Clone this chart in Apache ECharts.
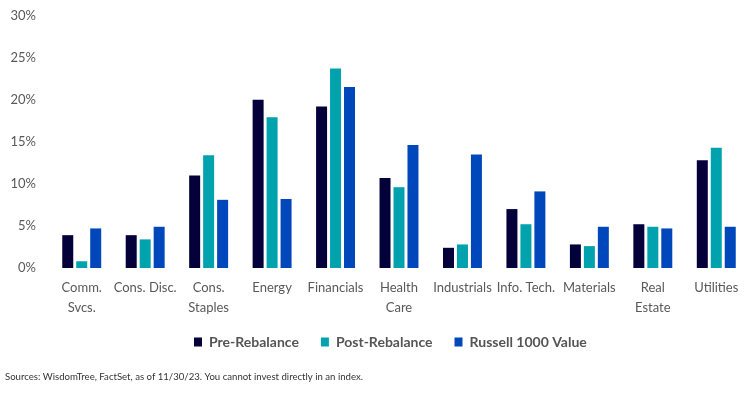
<!DOCTYPE html>
<html>
<head>
<meta charset="utf-8">
<script src="https://cdn.jsdelivr.net/npm/echarts@6/dist/echarts.min.js"></script>
<style>html,body{margin:0;padding:0;background:#fff;}#c{width:748px;height:393px;}</style>
</head>
<body>
<div id="c"></div>
<script>
const categories = ["Comm.\nSvcs.", "Cons. Disc.", "Cons.\nStaples", "Energy", "Financials", "Health\nCare", "Industrials", "Info. Tech.", "Materials", "Real\nEstate", "Utilities"];
const preRebalance = [3.9, 3.9, 11.0, 20.0, 19.2, 10.7, 2.4, 7.0, 2.8, 5.2, 12.8];
const postRebalance = [0.8, 3.4, 13.4, 17.9, 23.7, 9.6, 2.8, 5.2, 2.6, 4.9, 14.3];
const russell1000Value = [4.7, 4.9, 8.1, 8.2, 21.5, 14.6, 13.5, 9.1, 4.9, 4.7, 4.9];
const seriesNames = ["Pre-Rebalance", "Post-Rebalance", "Russell 1000 Value"];
const yTicks = { min: 0, max: 30, interval: 5 };
const footnote = "Sources: WisdomTree, FactSet, as of 11/30/23. You cannot invest directly in an index.";

const colors = ["#03003A", "#00A3AD", "#0047BB"];
const fontFam = "'Source Sans Pro', Lato, 'Open Sans', sans-serif";
const chart = echarts.init(document.getElementById('c'));
const mk = (name, data, i) => ({
  name, type: 'bar', data, barWidth: 11, barGap: '27%',
  itemStyle: { color: colors[i] }
});
chart.setOption({
  animation: false,
  textStyle: { fontFamily: fontFam },
  grid: { left: 50, right: 0, top: 15.5, bottom: 125, containLabel: false },
  legend: {
    data: seriesNames, top: 330, left: 189, icon: 'rect',
    itemWidth: 8, itemHeight: 9, itemGap: 22,
    textStyle: { fontFamily: fontFam, fontWeight: 'bold', fontSize: 14, color: '#555', padding: [0, 0, 0, 2] }
  },
  xAxis: {
    type: 'category', data: categories,
    axisLine: { show: false }, axisTick: { show: false },
    axisLabel: { interval: 0, color: '#595959', fontSize: 13, lineHeight: 20, margin: 10, fontFamily: fontFam }
  },
  yAxis: {
    type: 'value', min: yTicks.min, max: yTicks.max, interval: yTicks.interval,
    splitLine: { show: false }, axisLine: { show: false }, axisTick: { show: false },
    axisLabel: { formatter: '{value}%', color: '#595959', fontSize: 13, margin: 14, fontFamily: fontFam }
  },
  graphic: [{
    type: 'text', left: 5, top: 372,
    style: { text: footnote, fontSize: 9.6, fill: '#333', fontFamily: fontFam }
  }],
  series: [mk(seriesNames[0], preRebalance, 0), mk(seriesNames[1], postRebalance, 1), mk(seriesNames[2], russell1000Value, 2)]
});
</script>
</body>
</html>
